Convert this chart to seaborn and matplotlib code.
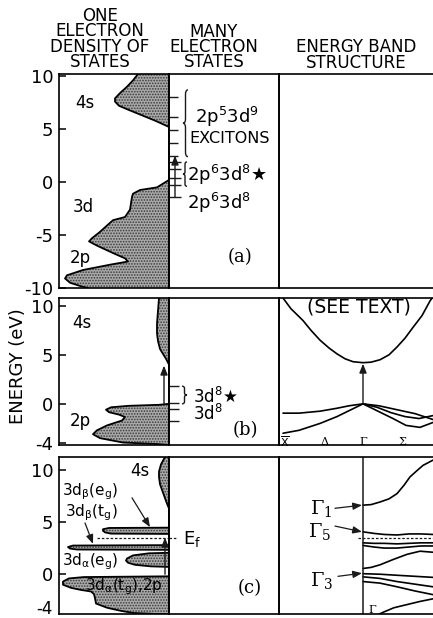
import numpy as np
import pandas as pd
import matplotlib
matplotlib.use('Agg')
import matplotlib.pyplot as plt
import seaborn as sns
from matplotlib.path import Path
from matplotlib.patches import PathPatch

# ---------------- data ----------------
# panel (a) one-electron DOS (energy eV, density in arbitrary width units)
DOS_A_E = [10.2, 9.6, 9.0, 8.4, 7.9, 7.6, 7.2, 6.8, 6.3, 5.8, 5.2, 0.2, -0.5, -0.75, -1.1, -1.4,
           -2.0, -2.6, -3.3, -3.6, -4.1, -4.7, -5.3, -5.6, -6.0, -6.7, -7.2, -7.5, -7.8, -8.3,
           -8.8, -9.1, -9.5, -9.9, -10.0]
DOS_A_D = [31, 36, 42, 49, 54, 54, 50, 40, 27, 14, 0, 0, 12, 29, 36, 37,
           38, 39, 44, 56, 62, 69, 77, 80, 72, 56, 44, 41, 59, 86,
           102, 104, 99, 86, 81]
# panel (b) DOS
DOS_B_E = [10.8, 9.5, 8.2, 7.2, 6.4, 5.6, 5.1, 4.6, 4.2, 4.0, 0.0, -0.1, -0.2, -0.35, -0.6,
           -0.85, -1.1, -1.35, -1.7, -2.2, -2.7, -3.1, -3.5, -3.95, -4.1, -4.2]
DOS_B_D = [10, 11, 12, 12, 11, 9, 6, 3, 1, 0, 0, 10, 40, 58, 63,
           60, 50, 44, 47, 62, 72, 76, 69, 46, 12, 0]
# panel (c) DOS
DOS_C_E = [11.2, 10.5, 9.8, 9.3, 8.6, 7.8, 7.0, 6.5, 6.3,
           4.45, 4.42, 4.3, 4.15, 4.0, 3.88, 3.85,
           2.78, 2.74, 2.6, 2.45, 2.36, 2.33,
           2.05, 2.0, 1.8, 1.5, 1.3, 1.1, 0.9, 0.75, 0.7,
           -0.2, -0.27, -0.4, -0.7, -1.0, -1.3, -1.5, -1.65, -1.9, -2.3, -2.8, -3.2, -3.5, -3.7, -3.85]
DOS_C_D = [4, 8, 10, 10, 9, 6, 3, 1, 0,
           0, 60, 66, 66, 64, 58, 0,
           0, 96, 101, 99, 92, 0,
           0, 20, 36, 42, 43, 41, 34, 18, 0,
           0, 85, 100, 106, 106, 98, 88, 78, 75, 74, 73, 62, 48, 36, 0]

# many-electron levels (eV)
ME_A_LEVELS = [8.0, 6.1, 4.9, 3.7, 2.5]
ME_A_GRID = [1.9, 1.2, 0.4, -0.3, -1.4]
ME_B_LEVELS = [1.8, 0.05, -0.55, -1.7]

# panel (b) band structure (k in panel units, E in eV)
BB_COND_K = [4, 12, 24, 32, 41, 50, 58, 66, 74, 84, 92, 101, 110, 118, 126, 134, 143, 151, 156]
BB_COND_E = [10.8, 9.7, 8.5, 7.5, 6.5, 5.7, 5.1, 4.6, 4.3, 4.2, 4.25, 4.5, 5.0, 5.8, 6.7, 7.8, 9.0, 10.5, 11.2]
BB_V1_K = [4, 20, 41, 58, 70, 84]
BB_V1_E = [-0.95, -0.95, -0.75, -0.45, -0.2, 0.0]
BB_V2_K = [4, 20, 41, 58, 70, 78, 84]
BB_V2_E = [-3.0, -2.7, -2.0, -1.3, -0.7, -0.3, 0.0]
BB_R1_K = [84, 98, 112, 126, 140, 154]
BB_R1_E = [0.0, -0.35, -0.9, -1.3, -1.5, -1.2]
BB_R2_K = [84, 98, 114, 127, 141, 154]
BB_R2_E = [0.0, -0.7, -1.5, -2.2, -2.4, -1.9]
BB_R3_K = [84, 100, 118, 136, 154]
BB_R3_E = [0.0, -0.2, -0.6, -1.0, -1.6]
KPOINT_LABELS = [r'$\overline{\mathrm{X}}$', 'Δ', 'Γ', 'Σ']
KPOINT_POS = [6, 46, 84, 123]

# panel (c) band structure
BC_G1_K = [84, 92, 101, 110, 118, 125, 131, 138, 144, 154]
BC_G1_E = [6.6, 6.65, 6.9, 7.2, 7.7, 8.5, 9.3, 9.9, 10.4, 10.9]
BC_G5A_K = [84, 95, 105, 118, 130, 142, 154]
BC_G5A_E = [4.05, 3.9, 3.8, 3.75, 3.85, 3.85, 3.8]
BC_G5B_E = [3.0, 2.95, 2.95, 2.9, 2.95, 3.0, 3.0]
BC_G5C_E = [2.75, 2.6, 2.5, 2.5, 2.6, 2.7, 2.7]
BC_M_K = [84, 92, 101, 114, 128, 141, 154]
BC_M_E = [0.55, 0.65, 0.9, 1.4, 1.9, 2.2, 2.1]
BC_G3_K = [84, 101, 118, 136, 154]
BC_G3A_E = [0.05, 0.0, -0.1, -0.2, -0.3]
BC_G3B_E = [-0.25, -0.4, -0.7, -0.95, -1.2]
BC_G3C_E = [-0.7, -0.85, -1.2, -1.6, -1.95]
BC_LOW_K = [97, 105, 115, 128, 141, 154]
BC_LOW_E = [-3.95, -3.6, -3.2, -2.9, -2.6, -2.35]
EF = 3.5

TICKS_A = [10, 5, 0, -5, -10]
TICKS_B = [10, 5, 0, -4]
TICKS_C = [10, 5, 0]
TICK_C_BOTTOM = '-4'

# ---------------- style ----------------
sns.set_theme(style='white')
plt.rcParams.update({
    'font.family': ['DejaVu Sans'],
    'mathtext.fontset': 'dejavusans',
    'mathtext.default': 'regular',
    'hatch.linewidth': 0.8,
    'axes.linewidth': 1.2,
    'axes.edgecolor': 'black',
    'text.color': 'black',
    'xtick.color': 'black',
    'ytick.color': 'black',
})

W, H = 433, 618
fig = plt.figure(figsize=(W / 100, H / 100), dpi=100)


def rect(x0, x1, y0, y1):
    return [x0 / W, 1 - y1 / H, (x1 - x0) / W, (y1 - y0) / H]


def brace(ax, xb, xt, y0, y1, h):
    ym = (y0 + y1) / 2
    xm = (xb + xt) / 2
    verts = [(xb, y0), (xm, y0), (xm, y0 + h), (xm, ym - h), (xm, ym), (xt, ym),
             (xm, ym), (xm, ym + h), (xm, y1 - h), (xm, y1), (xb, y1)]
    codes = [Path.MOVETO, Path.CURVE3, Path.CURVE3, Path.LINETO, Path.CURVE3, Path.CURVE3,
             Path.CURVE3, Path.CURVE3, Path.LINETO, Path.CURVE3, Path.CURVE3]
    ax.add_patch(PathPatch(Path(verts, codes), fill=False, lw=1.0, edgecolor='k'))


def arrow(ax, x0, y0, x1, y1, lw=1.0):
    ax.annotate('', xy=(x1, y1), xytext=(x0, y0),
                arrowprops=dict(arrowstyle='-|>,head_length=0.45,head_width=0.18',
                                color='k', lw=lw, shrinkA=0, shrinkB=0))


ROWS = [(74, 288, (-10, 10.2)), (298, 445, (-4.2, 10.8)), (457, 614, (-3.8, 11.2))]
axes = []
for (y0, y1, ylim) in ROWS:
    ad = fig.add_axes(rect(59, 169, y0, y1))
    am = fig.add_axes(rect(169, 279, y0, y1))
    ab = fig.add_axes(rect(279, 433, y0, y1))
    for a in (ad, am, ab):
        a.set_ylim(*ylim)
        a.set_xticks([])
        a.set_facecolor('none')
        for s in a.spines.values():
            s.set_color('black')
            s.set_linewidth(1.2)
    ad.set_xlim(110, 0)
    am.set_xlim(0, 110)
    ab.set_xlim(0, 154)
    am.set_yticks([])
    ab.set_yticks([])
    ab.spines['right'].set_visible(False)
    ad.tick_params(axis='y', direction='in', length=5, width=1.1, labelsize=13, pad=4,
                   left=True, right=False)
    axes.append((ad, am, ab))

TICKSETS = [TICKS_A, TICKS_B, TICKS_C]
for (ad, am, ab), tk in zip(axes, TICKSETS):
    ad.set_yticks(tk)
    ad.set_yticklabels([str(t) for t in tk])
# bottom label of (c), kept inside the figure
fig.text(53 / W, 0.0, TICK_C_BOTTOM, ha='right', va='bottom', fontsize=12)


def draw_dos(ax, E, D):
    ax.fill_betweenx(E, 0, D, facecolor='#a9a9a9', edgecolor='#3a3a3a', hatch='......',
                     linewidth=0)
    sns.lineplot(x=D, y=E, sort=False, estimator=None, color='black', lw=1.3, ax=ax,
                 legend=False)


LFS = 12
# ---------- panel (a) ----------
ad, am, ab = axes[0]
draw_dos(ad, DOS_A_E, DOS_A_D)
ad.text(94, 7.5, '4s', fontsize=LFS, va='center', ha='left')
ad.text(96, -2.4, '3d', fontsize=LFS, va='center', ha='left')
ad.text(99, -7.2, '2p', fontsize=LFS, va='center', ha='left')
am.hlines(ME_A_LEVELS, 0, 9, color='k', lw=1.0)
am.hlines(ME_A_GRID, 0, 12, color='k', lw=1.0)
arrow(am, 6, ME_A_GRID[-1], 6, ME_A_LEVELS[-1])
brace(am, 19, 14, 2.4, 8.7, 0.4)
brace(am, 18, 14, -0.4, 1.9, 0.2)
am.text(26, 6.1, '2p$^5$3d$^9$', fontsize=13, va='center', ha='left')
am.text(20, 4.1, 'EXCITONS', fontsize=11.5, va='center', ha='left')
am.text(18, 0.7, '2p$^6$3d$^8$★', fontsize=13, va='center', ha='left')
am.text(18, -2.0, '2p$^6$3d$^8$', fontsize=13, va='center', ha='left')
am.text(71, -7.1, '(a)', fontsize=13, va='center', ha='center', family='DejaVu Serif')

# ---------- panel (b) ----------
ad, am, ab = axes[1]
draw_dos(ad, DOS_B_E, DOS_B_D)
ad.text(97, 8.3, '4s', fontsize=LFS, va='center', ha='left')
ad.text(99, -1.7, '2p', fontsize=LFS, va='center', ha='left')
arrow(ad, 5, 0.0, 5, 3.9)
am.hlines(ME_B_LEVELS, 0, 10, color='k', lw=1.0)
brace(am, 13, 18, 0.0, 1.8, 0.2)
am.text(24, 0.75, '3d$^8$★', fontsize=12, va='center', ha='left')
am.text(24, -1.05, '3d$^8$', fontsize=12, va='center', ha='left')
am.text(76, -2.7, '(b)', fontsize=13, va='center', ha='center', family='DejaVu Serif')

band_b = pd.concat([
    pd.DataFrame({'k': BB_COND_K, 'E': BB_COND_E, 'band': 'c'}),
    pd.DataFrame({'k': BB_V1_K, 'E': BB_V1_E, 'band': 'v1'}),
    pd.DataFrame({'k': BB_V2_K, 'E': BB_V2_E, 'band': 'v2'}),
    pd.DataFrame({'k': BB_R1_K, 'E': BB_R1_E, 'band': 'r1'}),
    pd.DataFrame({'k': BB_R2_K, 'E': BB_R2_E, 'band': 'r2'}),
    pd.DataFrame({'k': BB_R3_K, 'E': BB_R3_E, 'band': 'r3'}),
])
sns.lineplot(data=band_b, x='k', y='E', units='band', estimator=None, sort=False,
             color='black', lw=1.2, ax=ab, legend=False)
ab.set_xlim(0, 154)
ab.set_ylim(*ROWS[1][2])
ab.set_xlabel('')
ab.set_ylabel('')
arrow(ab, 84, 0.0, 84, 4.1)
ab.text(80, 9.9, '(SEE TEXT)', fontsize=13.5, ha='center', va='center')
for lab, kp in zip(KPOINT_LABELS, KPOINT_POS):
    ab.text(kp, -3.85, lab, fontsize=8, ha='center', va='center', family='DejaVu Serif')

# ---------- panel (c) ----------
ad, am, ab = axes[2]
draw_dos(ad, DOS_C_E, DOS_C_D)
ad.text(39, 9.9, '4s', fontsize=LFS, va='center', ha='left')
ad.text(107, 7.9, '3d$_\\beta$(e$_g$)', fontsize=11, va='center', ha='left')
ad.text(104, 5.9, '3d$_\\beta$(t$_g$)', fontsize=11, va='center', ha='left')
ad.text(107, 1.2, '3d$_\\alpha$(e$_g$)', fontsize=11, va='center', ha='left')
ad.text(84, -1.2, '3d$_\\alpha$(t$_g$),2p', fontsize=11, va='center', ha='left')
arrow(ad, 37, 7.3, 19, 4.5, lw=0.9)
arrow(ad, 84, 4.9, 76, 2.9, lw=0.9)
arrow(ad, 4, 0.0, 4, EF)
ad.plot([72, 0], [EF, EF], ls=(0, (2, 1.5)), color='k', lw=0.9)
am.plot([0, 8], [EF, EF], ls=(0, (2, 1.5)), color='k', lw=0.9)
am.text(14, 3.4, 'E$_f$', fontsize=13, va='center', ha='left')
am.text(81, -1.3, '(c)', fontsize=13, va='center', ha='center', family='DejaVu Serif')

band_c = pd.concat([
    pd.DataFrame({'k': BC_G1_K, 'E': BC_G1_E, 'band': 'g1'}),
    pd.DataFrame({'k': BC_G5A_K, 'E': BC_G5A_E, 'band': 'g5a'}),
    pd.DataFrame({'k': BC_G5A_K, 'E': BC_G5B_E, 'band': 'g5b'}),
    pd.DataFrame({'k': BC_G5A_K, 'E': BC_G5C_E, 'band': 'g5c'}),
    pd.DataFrame({'k': BC_M_K, 'E': BC_M_E, 'band': 'm'}),
    pd.DataFrame({'k': BC_G3_K, 'E': BC_G3A_E, 'band': 'g3a'}),
    pd.DataFrame({'k': BC_G3_K, 'E': BC_G3B_E, 'band': 'g3b'}),
    pd.DataFrame({'k': BC_G3_K, 'E': BC_G3C_E, 'band': 'g3c'}),
    pd.DataFrame({'k': BC_LOW_K, 'E': BC_LOW_E, 'band': 'low'}),
])
sns.lineplot(data=band_c, x='k', y='E', units='band', estimator=None, sort=False,
             color='black', lw=1.2, ax=ab, legend=False)
ab.set_xlim(0, 154)
ab.set_ylim(*ROWS[2][2])
ab.set_xlabel('')
ab.set_ylabel('')
ab.axvline(84, color='k', lw=1.1)
ab.plot([79, 154], [EF, EF], ls=(0, (2, 1.5)), color='k', lw=0.9)
ab.text(31, 6.3, 'Γ$_1$', fontsize=14, va='center', ha='left', family='DejaVu Serif')
ab.text(29, 4.1, 'Γ$_5$', fontsize=14, va='center', ha='left', family='DejaVu Serif')
ab.text(31, -0.6, 'Γ$_3$', fontsize=14, va='center', ha='left', family='DejaVu Serif')
arrow(ab, 56, 6.3, 83, 6.6, lw=0.9)
arrow(ab, 56, 4.6, 83, 4.05, lw=0.9)
arrow(ab, 59, -0.2, 83, 0.1, lw=0.9)
ab.text(93, -3.4, 'Γ', fontsize=8, ha='center', va='center', family='DejaVu Serif')

# ---------- headers & axis label ----------
HFS = 12


def ftext(x, y, s, **kw):
    fig.text(x / W, 1 - y / H, s, ha='center', va='center', fontsize=HFS,
             multialignment='center', linespacing=0.82, **kw)


ftext(100, 39, 'ONE\nELECTRON\nDENSITY OF\nSTATES')
ftext(214, 47, 'MANY\nELECTRON\nSTATES')
ftext(356, 55, 'ENERGY BAND\nSTRUCTURE')
fig.text(18 / W, 1 - 366 / H, 'ENERGY (eV)', rotation=90, ha='center', va='center',
         fontsize=13)

fig.savefig('out.png', dpi=100)
